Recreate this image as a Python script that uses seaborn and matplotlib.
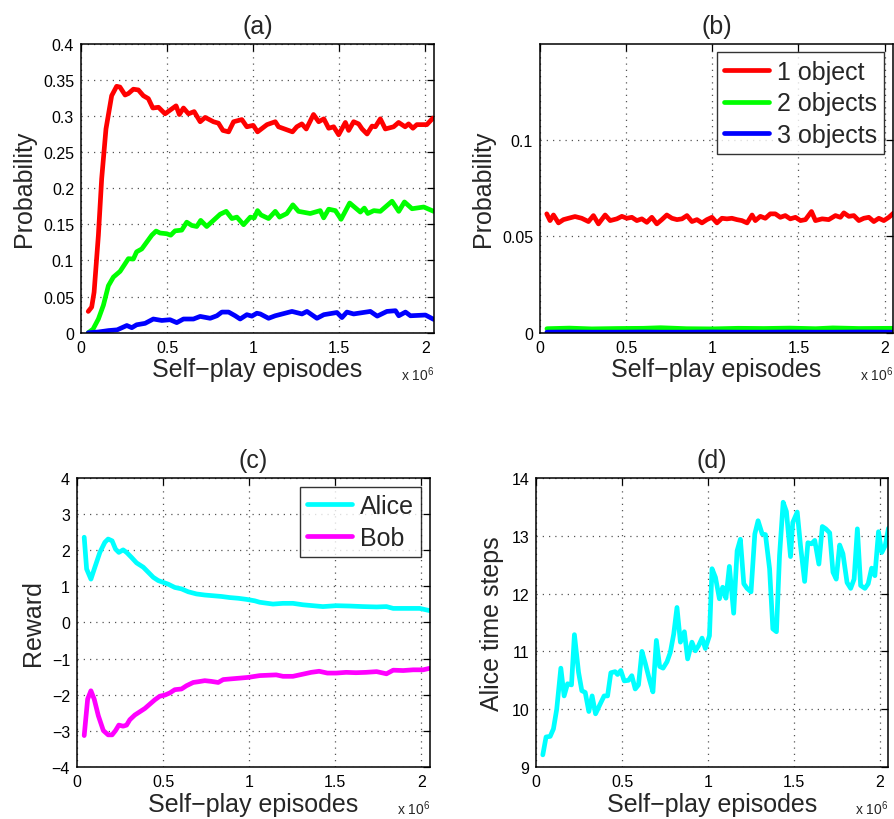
import numpy as np
import matplotlib
matplotlib.use("Agg")
import matplotlib.pyplot as plt
import seaborn as sns
from matplotlib.ticker import FuncFormatter

# ---------------- data (episodes in units of 1e6) ----------------
# (a) probability of solving with n objects, trained agent
a_red_x = [0.042, 0.062, 0.076, 0.101, 0.12, 0.145, 0.178, 0.207, 0.226, 0.256,
           0.275, 0.304, 0.333, 0.362, 0.391, 0.417, 0.45, 0.488, 0.517, 0.552,
           0.571, 0.595, 0.624, 0.657, 0.692, 0.721, 0.769, 0.798, 0.824, 0.857,
           0.886, 0.934, 0.963, 1.0, 1.025, 1.08, 1.128, 1.147, 1.228, 1.253,
           1.282, 1.308, 1.35, 1.38, 1.41, 1.438, 1.467, 1.496, 1.535, 1.554,
           1.583, 1.612, 1.632, 1.661, 1.69, 1.709, 1.738, 1.767, 1.815, 1.844,
           1.882, 1.902, 1.927, 1.95, 2.008, 2.043]
a_red_y = [0.0295, 0.0355, 0.056, 0.135, 0.213, 0.282, 0.328, 0.341, 0.340, 0.329,
           0.331, 0.337, 0.336, 0.328, 0.324, 0.311, 0.312, 0.303, 0.308, 0.314,
           0.302, 0.311, 0.303, 0.306, 0.292, 0.298, 0.292, 0.290, 0.280, 0.278,
           0.292, 0.295, 0.285, 0.287, 0.278, 0.288, 0.292, 0.285, 0.278, 0.285,
           0.289, 0.282, 0.302, 0.292, 0.296, 0.283, 0.285, 0.274, 0.291, 0.280,
           0.292, 0.289, 0.282, 0.275, 0.286, 0.285, 0.296, 0.282, 0.285, 0.291,
           0.285, 0.289, 0.283, 0.288, 0.288, 0.297]

a_green_x = [0.042, 0.07, 0.101, 0.13, 0.159, 0.188, 0.227, 0.256, 0.275, 0.304,
             0.323, 0.353, 0.382, 0.411, 0.436, 0.459, 0.498, 0.521, 0.546, 0.585,
             0.614, 0.643, 0.672, 0.695, 0.73, 0.769, 0.808, 0.843, 0.876, 0.905,
             0.944, 0.983, 1.006, 1.025, 1.045, 1.089, 1.128, 1.153, 1.195, 1.23,
             1.263, 1.331, 1.389, 1.409, 1.438, 1.477, 1.51, 1.56, 1.622, 1.645,
             1.665, 1.7, 1.738, 1.806, 1.845, 1.878, 1.922, 1.99, 2.048]
a_green_y = [0.0, 0.005, 0.019, 0.038, 0.065, 0.077, 0.085, 0.0955, 0.1025, 0.102,
             0.112, 0.116, 0.1255, 0.135, 0.1407, 0.138, 0.137, 0.135, 0.141, 0.142,
             0.153, 0.1485, 0.147, 0.1555, 0.147, 0.1555, 0.164, 0.168, 0.158, 0.160,
             0.1495, 0.160, 0.159, 0.169, 0.163, 0.158, 0.168, 0.160, 0.165, 0.177,
             0.168, 0.165, 0.169, 0.159, 0.171, 0.169, 0.157, 0.1795, 0.167, 0.1725,
             0.165, 0.169, 0.168, 0.182, 0.168, 0.181, 0.1716, 0.174, 0.168]

a_blue_x = [0.042, 0.1, 0.16, 0.21, 0.266, 0.295, 0.323, 0.372, 0.42, 0.469,
            0.517, 0.556, 0.595, 0.653, 0.692, 0.75, 0.789, 0.818, 0.857, 0.895,
            0.924, 0.963, 0.992, 1.021, 1.041, 1.089, 1.128, 1.225, 1.283, 1.312,
            1.37, 1.41, 1.486, 1.515, 1.544, 1.583, 1.68, 1.72, 1.776, 1.826,
            1.845, 1.884, 1.913, 2.0, 2.048]
a_blue_y = [0.0, 0.001, 0.003, 0.004, 0.010, 0.007, 0.011, 0.013, 0.019, 0.017,
            0.018, 0.014, 0.019, 0.019, 0.0226, 0.020, 0.0235, 0.0286, 0.0286, 0.0235,
            0.019, 0.025, 0.023, 0.027, 0.026, 0.020, 0.0235, 0.0295, 0.026, 0.0295,
            0.020, 0.025, 0.028, 0.021, 0.0286, 0.026, 0.0295, 0.023, 0.0295, 0.0305,
            0.0235, 0.0286, 0.0235, 0.0245, 0.0185]

# (b) probability of solving with n objects, random agent
b_red_x = [0.039, 0.058, 0.078, 0.107, 0.136, 0.165, 0.203, 0.242, 0.281, 0.310,
           0.339, 0.378, 0.407, 0.446, 0.475, 0.504, 0.533, 0.562, 0.591, 0.620,
           0.649, 0.678, 0.707, 0.736, 0.766, 0.795, 0.824, 0.853, 0.882, 0.911,
           0.940, 0.969, 0.998, 1.027, 1.056, 1.085, 1.114, 1.143, 1.172, 1.202,
           1.231, 1.250, 1.279, 1.308, 1.337, 1.366, 1.395, 1.424, 1.453, 1.483,
           1.512, 1.541, 1.576, 1.599, 1.638, 1.676, 1.715, 1.744, 1.764, 1.793,
           1.822, 1.851, 1.880, 1.909, 1.938, 1.967, 1.996, 2.025, 2.054]
b_red_y = [0.0617, 0.0582, 0.0611, 0.0570, 0.0587, 0.0594, 0.0603, 0.0594, 0.0577, 0.0608,
           0.0565, 0.0611, 0.0582, 0.0591, 0.0604, 0.0594, 0.0599, 0.0582, 0.0591, 0.0573,
           0.0599, 0.0565, 0.0587, 0.0611, 0.0594, 0.0587, 0.0591, 0.0608, 0.0577, 0.0587,
           0.0570, 0.0587, 0.0599, 0.0570, 0.0594, 0.0591, 0.0594, 0.0587, 0.0582, 0.0570,
           0.0611, 0.0582, 0.0604, 0.0594, 0.0617, 0.0617, 0.0599, 0.0608, 0.0591, 0.0599,
           0.0582, 0.0587, 0.0629, 0.0582, 0.0591, 0.0587, 0.0608, 0.0599, 0.0622, 0.0604,
           0.0608, 0.0582, 0.0594, 0.0599, 0.0577, 0.0594, 0.0582, 0.0599, 0.0622]

b_low_x = [0.04, 0.17, 0.3, 0.45, 0.6, 0.7, 0.85, 1.0, 1.15, 1.3, 1.45, 1.6, 1.7, 1.85, 2.05]
b_green_y = [0.0021, 0.0024, 0.0020, 0.0022, 0.0023, 0.0026, 0.0021, 0.0020,
             0.0023, 0.0022, 0.0024, 0.0021, 0.0025, 0.0022, 0.0023]
b_blue_y = [0.0003, 0.0004, 0.0003, 0.0003, 0.0004, 0.0003, 0.0003, 0.0004,
            0.0003, 0.0003, 0.0004, 0.0003, 0.0003, 0.0004, 0.0003]

# (c) self-play rewards
c_alice_x = [0.042, 0.056, 0.081, 0.104, 0.133, 0.162, 0.181, 0.204, 0.224, 0.243,
             0.268, 0.288, 0.317, 0.346, 0.385, 0.414, 0.443, 0.472, 0.501, 0.53,
             0.568, 0.607, 0.646, 0.694, 0.742, 0.791, 0.839, 0.887, 0.936, 0.984,
             1.032, 1.061, 1.138, 1.196, 1.254, 1.312, 1.37, 1.428, 1.505, 1.585,
             1.662, 1.74, 1.797, 1.836, 1.913, 1.99, 2.046]
c_alice_y = [2.36, 1.48, 1.20, 1.53, 1.94, 2.22, 2.31, 2.26, 2.03, 1.94,
             2.01, 1.94, 1.80, 1.65, 1.53, 1.39, 1.25, 1.16, 1.11, 1.06,
             0.97, 0.93, 0.85, 0.79, 0.76, 0.74, 0.72, 0.69, 0.67, 0.64,
             0.60, 0.56, 0.51, 0.53, 0.53, 0.49, 0.465, 0.44, 0.465, 0.455,
             0.44, 0.43, 0.44, 0.39, 0.39, 0.39, 0.33]

c_bob_x = [0.042, 0.062, 0.081, 0.1, 0.124, 0.153, 0.181, 0.204, 0.224, 0.243,
           0.268, 0.288, 0.307, 0.336, 0.365, 0.394, 0.423, 0.452, 0.481, 0.51,
           0.539, 0.568, 0.607, 0.636, 0.675, 0.704, 0.742, 0.78, 0.82, 0.849,
           0.896, 0.945, 0.993, 1.061, 1.157, 1.196, 1.254, 1.312, 1.36, 1.406,
           1.454, 1.505, 1.563, 1.62, 1.678, 1.74, 1.797, 1.836, 1.894, 1.952,
           2.01, 2.046]
c_bob_y = [-3.13, -2.12, -1.89, -2.12, -2.58, -2.99, -3.11, -3.11, -2.99, -2.84,
           -2.87, -2.84, -2.69, -2.56, -2.47, -2.38, -2.26, -2.14, -2.04, -2.01,
           -1.95, -1.86, -1.84, -1.75, -1.66, -1.64, -1.61, -1.63, -1.66, -1.58,
           -1.56, -1.54, -1.52, -1.47, -1.45, -1.49, -1.49, -1.43, -1.38, -1.35,
           -1.40, -1.40, -1.38, -1.39, -1.38, -1.36, -1.42, -1.32, -1.33, -1.31,
           -1.31, -1.27]

# (d) Alice episode length
d_x = [0.039, 0.058, 0.082, 0.101, 0.12, 0.144, 0.163, 0.183, 0.206, 0.223,
       0.247, 0.266, 0.286, 0.307, 0.326, 0.346, 0.373, 0.396, 0.416, 0.435,
       0.46, 0.474, 0.493, 0.513, 0.538, 0.557, 0.577, 0.596, 0.616, 0.635,
       0.659, 0.68, 0.7, 0.719, 0.739, 0.762, 0.781, 0.801, 0.82, 0.84,
       0.863, 0.882, 0.907, 0.927, 0.946, 0.966, 0.985,
       1.009, 1.024, 1.044, 1.067, 1.086, 1.105, 1.125, 1.15, 1.17, 1.189,
       1.209, 1.228, 1.251, 1.273, 1.292, 1.316, 1.335, 1.359, 1.378, 1.399,
       1.417, 1.438, 1.457, 1.481, 1.494, 1.52, 1.539, 1.563, 1.582, 1.603,
       1.622, 1.646, 1.666, 1.686, 1.709, 1.728, 1.747, 1.767, 1.786, 1.81,
       1.831, 1.851, 1.87, 1.889, 1.914, 1.933, 1.953, 1.972, 1.993, 2.012,
       2.032, 2.051]
d_y = [9.21, 9.52, 9.53, 9.66, 10.0, 10.71, 10.23, 10.44, 10.42, 11.29,
       10.64, 10.32, 10.29, 9.96, 10.23, 9.92, 10.09, 10.23, 10.23, 10.63,
       10.65, 10.60, 10.67, 10.49, 10.50, 10.58, 10.35, 10.42, 11.0, 10.80,
       10.52, 10.30, 11.19, 10.74, 10.71, 10.82, 10.98, 11.30, 11.76, 11.16,
       11.34, 10.87, 11.16, 11.01, 11.10, 11.23, 11.05,
       11.27, 12.43, 12.28, 11.91, 12.11, 11.92, 12.47, 11.66, 12.74, 12.94,
       12.17, 12.09, 12.03, 13.03, 13.26, 13.03, 13.02, 12.43, 11.39, 11.34,
       12.66, 13.58, 13.42, 12.64, 13.23, 13.41, 12.83, 12.21, 12.88, 12.86,
       12.92, 12.51, 13.16, 13.12, 13.05, 12.37, 12.25, 12.84, 12.69, 12.19,
       12.09, 12.25, 13.12, 12.14, 12.09, 12.17, 12.44, 12.31, 13.07, 12.71,
       12.83, 13.13]

x_ticks = [0, 0.5, 1, 1.5, 2]
object_labels = ["1 object", "2 objects", "3 objects"]
agent_labels = ["Alice", "Bob"]

# ---------------- style ----------------
sns.set_style("white")
plt.rcParams["font.family"] = ["Liberation Sans", "DejaVu Sans"]
plt.rcParams["mathtext.fontset"] = "custom"
plt.rcParams["mathtext.rm"] = "Liberation Sans"
plt.rcParams["axes.unicode_minus"] = True

RED, GREEN, BLUE = "#ff0000", "#00ff00", "#0000ff"
CYAN, MAGENTA = "#00ffff", "#ff00ff"
LW = 3.4

fig = plt.figure(figsize=(8.95, 8.2), dpi=100)
ax_a = fig.add_axes([0.0905, 0.593, 0.3945, 0.3525])
ax_b = fig.add_axes([0.6034, 0.593, 0.3945, 0.3525])
ax_c = fig.add_axes([0.086, 0.0634, 0.3945, 0.3525])
ax_d = fig.add_axes([0.599, 0.0634, 0.3935, 0.3525])

fmt = FuncFormatter(lambda v, p: ("%g" % v).replace("-", "\u2212"))


def style_axes(ax, title, ylabel, ylim, yticks):
    ax.set_xlim(0, 2.05)
    ax.set_ylim(*ylim)
    ax.set_xticks(x_ticks)
    ax.set_yticks(yticks)
    ax.xaxis.set_major_formatter(fmt)
    ax.yaxis.set_major_formatter(fmt)
    ax.tick_params(direction="in", length=5, width=0.9, top=True, right=True,
                   labelsize=11.5, colors="black", pad=5)
    ax.grid(True, linestyle=(0, (1, 4)), color="#555555", linewidth=0.9)
    for s in ax.spines.values():
        s.set_color("black")
        s.set_linewidth(1.1)
    ax.set_title(title, fontsize=18, pad=8)
    ax.set_xlabel("Self\u2212play episodes", fontsize=18, labelpad=2)
    ax.set_ylabel(ylabel, fontsize=18, labelpad=5)
    ax.text(1.0, -0.162, r"x 10$^{6}$", transform=ax.transAxes, ha="right",
            va="baseline", fontsize=10)


def draw(ax, x, y, color, label=None):
    sns.lineplot(x=x, y=y, ax=ax, color=color, linewidth=LW, estimator=None,
                 sort=False, label=label, legend=False)


legend_kw = dict(loc="upper right", fontsize=18, frameon=True, fancybox=False,
                 edgecolor="black", handlelength=1.8, handletextpad=0.3,
                 labelspacing=0.3, borderpad=0.3, borderaxespad=0.35)

# (a)
draw(ax_a, a_red_x, a_red_y, RED)
draw(ax_a, a_green_x, a_green_y, GREEN)
draw(ax_a, a_blue_x, a_blue_y, BLUE)
style_axes(ax_a, "(a)", "Probability", (0, 0.4),
           [0, 0.05, 0.1, 0.15, 0.2, 0.25, 0.3, 0.35, 0.4])

# (b)
draw(ax_b, b_red_x, b_red_y, RED, object_labels[0])
draw(ax_b, b_low_x, b_green_y, GREEN, object_labels[1])
draw(ax_b, b_low_x, b_blue_y, BLUE, object_labels[2])
style_axes(ax_b, "(b)", "Probability", (0, 0.15), [0, 0.05, 0.1])
leg_b = ax_b.legend(**legend_kw)
leg_b.get_frame().set_linewidth(1.0)

# (c)
draw(ax_c, c_alice_x, c_alice_y, CYAN, agent_labels[0])
draw(ax_c, c_bob_x, c_bob_y, MAGENTA, agent_labels[1])
style_axes(ax_c, "(c)", "Reward", (-4, 4), [-4, -3, -2, -1, 0, 1, 2, 3, 4])
leg_c = ax_c.legend(**legend_kw)
leg_c.get_frame().set_linewidth(1.0)

# (d)
draw(ax_d, d_x, d_y, CYAN)
style_axes(ax_d, "(d)", "Alice time steps", (9, 14), [9, 10, 11, 12, 13, 14])

fig.savefig("out.png", dpi=100, facecolor="white")
